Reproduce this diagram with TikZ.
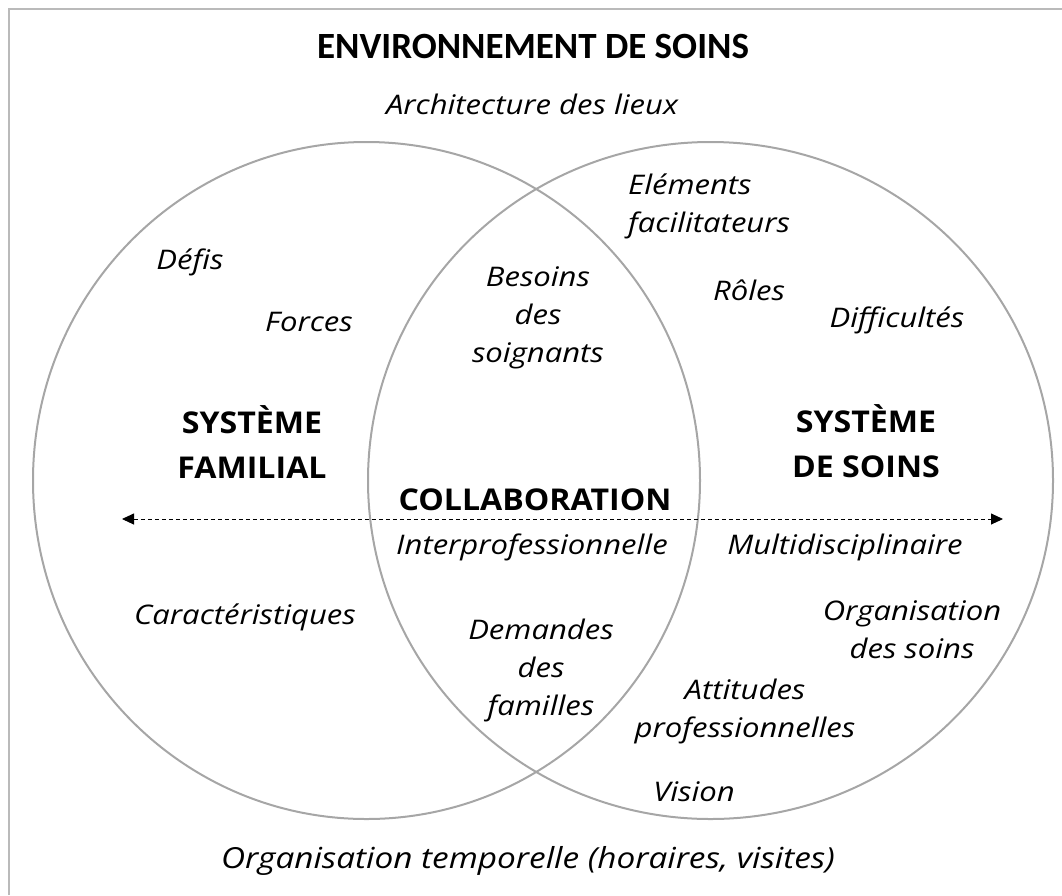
\documentclass[tikz,border=0pt]{standalone}
\usepackage{fontspec}
\setmainfont{Open Sans}
\newfontfamily\itf{Open Sans}[FakeStretch=1.15]
\newfontfamily\bff{Open Sans}[FakeStretch=1.07]
\newfontfamily\titlefont{Carlito}
\usetikzlibrary{arrows.meta}
\begin{document}
\begin{tikzpicture}[x=1pt,y=-1pt,
  lbl/.style={font=\itf\fontsize{27}{38}\selectfont\itshape, align=center, inner sep=0pt},
  hdr/.style={font=\bff\fontsize{30}{45}\selectfont\bfseries, align=center, inner sep=0pt},
  ttl/.style={font=\titlefont\fontsize{37}{45}\selectfont\bfseries, inner sep=0pt},
  ring/.style={draw=black!35, line width=2pt},
  frame/.style={draw=black!27, line width=2.5pt},
  link/.style={dash pattern=on 4pt off 3pt, line width=0.9pt, {Triangle[length=12pt,width=11pt]}-{Triangle[length=12pt,width=11pt]}}]
\useasboundingbox (0,0) rectangle (1062,895);
\draw[frame] (9,895) -- (9,9) -- (1062,9);
\draw[ring] (366.5,480.5) ellipse [x radius=333.5, y radius=338.5];
\draw[ring] (710.5,480.5) ellipse [x radius=342.5, y radius=338.5];

\node[ttl] (env) at (533,46) {ENVIRONNEMENT DE SOINS};
\node[lbl] (arch) at (532,104) {Architecture des lieux};
\node[lbl] (defis) at (190,262) {Défis};
\node[lbl] (forces) at (309,322) {Forces};
\node[lbl] (besoins) at (538,318) {Besoins\\des\\soignants};
\node[lbl, align=left, anchor=west] (elem) at (628,206) {Eléments\\facilitateurs};
\node[lbl] (roles) at (749,290) {Rôles};
\node[lbl] (diff) at (897,320) {Difficultés};
\node[hdr] (sysfam) at (252,442) {SYSTÈME\\FAMILIAL};
\node[hdr] (syssoins) at (866,441) {SYSTÈME\\DE SOINS};
\node[hdr] (collab) at (535,500) {COLLABORATION};
\node[lbl] (inter) at (532,547) {Interprofessionnelle};
\node[lbl] (multi) at (845,547) {Multidisciplinaire};
\node[lbl] (carac) at (245,617) {Caractéristiques};
\node[lbl] (orgsoins) at (912,630) {Organisation\\des soins};
\node[lbl] (demandes) at (541,670) {Demandes\\des\\familles};
\node[lbl] (attitudes) at (745,711) {Attitudes\\professionnelles};
\node[lbl] (vision) at (694,792) {Vision};
\node[lbl, font=\itf\fontsize{29}{38}\selectfont\itshape] (orgtemp) at (528,861) {Organisation temporelle (horaires, visites)};

\coordinate (al) at (122,519);
\coordinate (ar) at (1003,519);
\draw[link] (al) -- (ar);
\end{tikzpicture}
\end{document}
